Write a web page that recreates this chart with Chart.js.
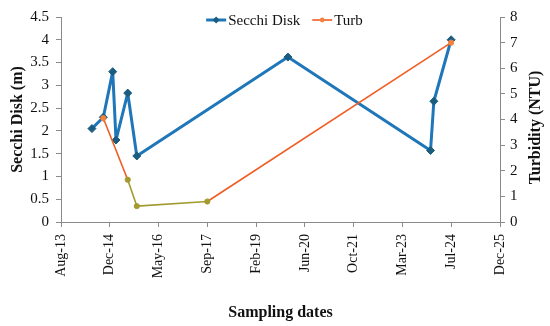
<!DOCTYPE html>
<html>
<head>
<meta charset="utf-8">
<script src="https://cdn.jsdelivr.net/npm/chart.js@4/dist/chart.umd.min.js"></script>
<style>
  html, body { margin: 0; padding: 0; background: #fff; }
  #wrap { width: 550px; height: 326px; position: relative; }
</style>
</head>
<body>
<div id="wrap"><canvas id="secchiChart"></canvas></div>
<script>
// Data
const secchiDates = ['2014-06-27', '2014-10-22', '2015-01-26', '2015-03-01', '2015-06-29', '2015-09-30', '2019-12-27', '2023-12-28', '2024-01-31', '2024-07-26'];
const secchiValues = [2.05, 2.3, 3.3, 1.8, 2.83, 1.45, 3.62, 1.57, 2.65, 4.0];
const turbDates = ['2014-10-22', '2015-06-29', '2015-09-30', '2017-09-22', '2024-07-26'];
const turbValues = [4.05, 1.65, 0.62, 0.8, 7.0];

// x axis uses Excel style day serials (ticks every 500 days from Aug-13)
const xMin = 41500, xMax = 46000, xStep = 500;
const months = ['Jan','Feb','Mar','Apr','May','Jun','Jul','Aug','Sep','Oct','Nov','Dec'];

function toSerial(iso) {
  return Date.parse(iso + 'T00:00:00Z') / 864e5 + 25569;
}
function serialLabel(v) {
  const d = new Date((v - 25569) * 864e5);
  return months[d.getUTCMonth()] + '-' + String(d.getUTCFullYear()).slice(2);
}

const secchiPts = secchiDates.map((d, i) => ({ x: toSerial(d), y: secchiValues[i] }));
const turbPts = turbDates.map((d, i) => ({ x: toSerial(d), y: turbValues[i] }));

const serif = "'Liberation Serif', 'Times New Roman', serif";
Chart.defaults.font.family = serif;
Chart.defaults.color = '#111';
const axisGray = '#8a8a8a';
const olive = '#a39b2f';

// legend sits inside the plot at the top, drawn by hand (line + marker + text)
const topLegend = {
  id: 'topLegend',
  afterDraw(chart) {
    const c = chart.ctx;
    const a = chart.chartArea;
    const ds = chart.data.datasets;
    const lineLen = 20, gap = 2, itemGap = 12, y = 20;
    c.save();
    c.font = '15px ' + serif;
    c.textBaseline = 'middle';
    const widths = ds.map(d => lineLen + gap + c.measureText(d.label).width);
    const total = widths.reduce((s, w) => s + w, 0) + itemGap * (ds.length - 1);
    let x = (a.left + a.right) / 2 + 4 - total / 2;
    ds.forEach((d, i) => {
      c.strokeStyle = d.borderColor;
      c.lineWidth = d.borderWidth;
      c.beginPath();
      c.moveTo(x, y);
      c.lineTo(x + lineLen, y);
      c.stroke();
      const mx = x + lineLen / 2;
      c.fillStyle = d.legendMarker;
      c.beginPath();
      if (d.pointStyle === 'rectRot') {
        const r = 3.5;
        c.moveTo(mx, y - r); c.lineTo(mx + r, y); c.lineTo(mx, y + r); c.lineTo(mx - r, y);
        c.closePath();
      } else {
        c.arc(mx, y, 2.4, 0, Math.PI * 2);
      }
      c.fill();
      c.fillStyle = '#111';
      c.fillText(d.label, x + lineLen + gap, y + 1);
      x += widths[i] + itemGap;
    });
    c.restore();
  }
};

// right axis title reads bottom-to-top, as on the left
const rightTitle = {
  id: 'rightTitle',
  afterDraw(chart) {
    const c = chart.ctx;
    const a = chart.chartArea;
    c.save();
    c.translate(536, (a.top + a.bottom) / 2 + 8);
    c.rotate(-Math.PI / 2);
    c.font = 'bold 16px ' + serif;
    c.fillStyle = '#111';
    c.textAlign = 'center';
    c.textBaseline = 'middle';
    c.fillText('Turbidity (NTU)', 0, 0);
    c.restore();
  }
};

const ctx = document.getElementById('secchiChart').getContext('2d');
const secchiChart = new Chart(ctx, {
  type: 'line',
  data: {
    datasets: [
      {
        label: 'Secchi Disk',
        data: secchiPts,
        borderColor: '#1f77b9',
        backgroundColor: '#1f77b9',
        legendMarker: '#1a5d80',
        borderWidth: 3,
        borderJoinStyle: 'round',
        tension: 0,
        pointStyle: 'rectRot',
        pointRadius: 4,
        pointBackgroundColor: '#1a5d80',
        pointBorderColor: '#1a5d80',
        pointBorderWidth: 1,
        yAxisID: 'y',
        order: 1
      },
      {
        label: 'Turb',
        data: turbPts,
        borderColor: '#ef5d24',
        backgroundColor: '#ef5d24',
        legendMarker: '#f4823f',
        borderWidth: 1.6,
        borderJoinStyle: 'round',
        tension: 0,
        pointStyle: 'circle',
        pointRadius: 2.6,
        pointBackgroundColor: ['#f4823f', olive, olive, olive, '#f4823f'],
        pointBorderColor: ['#f4823f', olive, olive, olive, '#f4823f'],
        pointBorderWidth: 1,
        segment: {
          borderColor: c => (c.p0DataIndex === 1 || c.p0DataIndex === 2) ? olive : undefined
        },
        yAxisID: 'y1',
        order: 0
      }
    ]
  },
  options: {
    responsive: true,
    maintainAspectRatio: false,
    animation: false,
    layout: { padding: { top: 17, left: 0, right: 0, bottom: 0 } },
    plugins: {
      legend: { display: false },
      tooltip: { enabled: false }
    },
    scales: {
      x: {
        type: 'linear',
        min: xMin,
        max: xMax,
        afterFit: s => { s.height = 104; },
        ticks: {
          stepSize: xStep,
          minRotation: 90,
          maxRotation: 90,
          padding: 7,
          font: { family: serif, size: 14 },
          callback: v => serialLabel(v)
        },
        grid: { drawOnChartArea: false, tickLength: 5, color: axisGray },
        border: { color: axisGray },
        title: {
          display: true,
          text: 'Sampling dates',
          font: { family: serif, size: 16, weight: 'bold' },
          padding: { top: 0, bottom: 4 }
        }
      },
      y: {
        type: 'linear',
        position: 'left',
        min: 0,
        max: 4.5,
        afterFit: s => { s.width = 61; },
        ticks: {
          stepSize: 0.5,
          padding: 7,
          font: { family: serif, size: 15 },
          callback: v => String(v)
        },
        grid: { drawOnChartArea: false, tickLength: 5, color: axisGray },
        border: { color: axisGray },
        title: {
          display: true,
          text: 'Secchi Disk (m)',
          font: { family: serif, size: 16, weight: 'bold' },
          padding: { top: 8, bottom: 0 }
        }
      },
      y1: {
        type: 'linear',
        position: 'right',
        min: 0,
        max: 8,
        afterFit: s => { s.width = 50; },
        ticks: {
          stepSize: 1,
          padding: 5,
          font: { family: serif, size: 15 },
          callback: v => String(v)
        },
        grid: { drawOnChartArea: false, tickLength: 5, color: axisGray },
        border: { color: axisGray }
      }
    }
  },
  plugins: [topLegend, rightTitle]
});
</script>
</body>
</html>
